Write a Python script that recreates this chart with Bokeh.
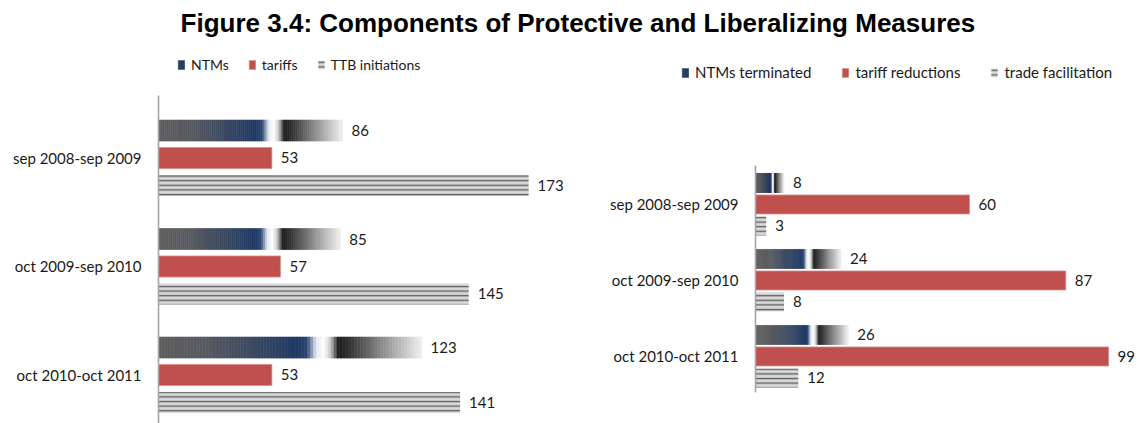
from bokeh.plotting import figure
from bokeh.models import (Range1d, FixedTicker, Legend, LegendItem, ColumnDataSource)
from bokeh.layouts import column, row
from bokeh.core.properties import value
from bokeh.embed import file_html
from bokeh.resources import INLINE

# ---------------- data ----------------
title_text = "Figure 3.4:  Components of Protective and Liberalizing Measures"
periods_left = ["sep 2008-sep 2009", "oct 2009-sep 2010", "oct 2010-oct 2011"]
ntms = [86, 85, 123]
tariffs = [53, 57, 53]
ttb_initiations = [173, 145, 141]
left_series_names = ["NTMs", "tariffs", "TTB initiations"]

periods_right = ["sep 2008-sep 2009", "oct 2009-sep 2010", "oct 2010-oct 2011"]
ntms_terminated = [8, 24, 26]
tariff_reductions = [60, 87, 99]
trade_facilitation = [3, 8, 12]
right_series_names = ["NTMs terminated", "tariff reductions", "trade facilitation"]

# ---------------- styles ----------------
FONT = "Lato"
RED = "#c0504d"
STRIPE_FILL = "#d9d9d9"
STRIPE_COLOR = "#5f5f5f"
AXIS_COLOR = "#a6a6a6"
N_SEG = 90
GRAD_STOPS = [
    (0.00, (0x5e, 0x5e, 0x5e)),
    (0.18, (0x58, 0x5a, 0x60)),
    (0.53, (0x1f, 0x39, 0x64)),
    (0.565, (0x2a, 0x45, 0x70)),
    (0.60, (0xe6, 0xeb, 0xf2)),
    (0.63, (0xff, 0xff, 0xff)),
    (0.655, (0xc8, 0xc8, 0xc8)),
    (0.685, (0x1a, 0x1a, 0x1a)),
    (0.72, (0x2e, 0x2e, 0x2e)),
    (0.85, (0x8c, 0x8c, 0x8c)),
    (1.00, (0xf0, 0xf0, 0xf0)),
]


def grad_color(f):
    for (f0, c0), (f1, c1) in zip(GRAD_STOPS[:-1], GRAD_STOPS[1:]):
        if f0 <= f <= f1:
            t = (f - f0) / (f1 - f0) if f1 > f0 else 0
            c = [round(a + (b - a) * t) for a, b in zip(c0, c1)]
            return "#%02x%02x%02x" % tuple(c)
    return "#%02x%02x%02x" % GRAD_STOPS[-1][1]


def gradient_source(ys, vals, n=N_SEG):
    d = dict(y=[], left=[], right=[], color=[])
    for y, v in zip(ys, vals):
        for i in range(n):
            f0, f1 = i / n, (i + 1) / n
            d["y"].append(y)
            d["left"].append(v * f0)
            d["right"].append(v * f1)
            d["color"].append(grad_color((f0 + f1) / 2))
    return ColumnDataSource(d)


def make_panel(categories, s1, s2, s3, names, width, height, x_start, x_end,
               y_top, y_bottom, axis_bounds, offset, bar_h, border_left,
               fixed_axis, legend_loc, legend_font, legend_spacing):
    p = figure(width=width, height=height, output_backend="svg", toolbar_location=None,
               x_range=Range1d(x_start, x_end), y_range=Range1d(y_bottom, y_top),
               min_border_left=border_left, min_border_right=0,
               min_border_top=0, min_border_bottom=0)
    p.outline_line_color = None
    p.grid.visible = False
    p.xaxis.visible = False
    p.background_fill_color = None
    p.border_fill_color = None

    idx = list(range(len(categories)))
    y1 = [i - offset for i in idx]
    y2 = idx
    y3 = [i + offset for i in idx]

    src = gradient_source(y1, s1)
    r1 = p.hbar(y="y", left="left", right="right", height=bar_h, source=src,
                fill_color="color", line_color="color", line_width=0.6)
    r2 = p.hbar(y=y2, left=0, right=s2, height=bar_h, fill_color=RED,
                line_color="#d98c8a", line_width=0.8)
    r3 = p.hbar(y=y3, left=0, right=s3, height=bar_h, fill_color=STRIPE_FILL,
                line_color=None, hatch_pattern="-", hatch_color=STRIPE_COLOR,
                hatch_scale=4.6, hatch_weight=1.4)

    for ys, vals in ((y1, s1), (y2, s2), (y3, s3)):
        p.text(x=vals, y=ys, text=[str(v) for v in vals], x_offset=9,
               text_align="left", text_baseline="middle",
               text_font=value(FONT), text_font_size="15px", text_color="#1a1a1a")

    ax = p.yaxis[0]
    ax.ticker = FixedTicker(ticks=idx)
    ax.major_label_overrides = {i: c for i, c in zip(idx, categories)}
    ax.major_label_text_font = FONT
    ax.major_label_text_font_size = "15px"
    ax.major_label_text_color = "#1a1a1a"
    ax.major_label_standoff = 17
    ax.major_tick_line_color = None
    ax.minor_tick_line_color = None
    ax.major_tick_out = 0
    ax.major_tick_in = 0
    ax.axis_line_color = AXIS_COLOR
    ax.axis_line_width = 1.6
    ax.bounds = axis_bounds
    if fixed_axis:
        ax.fixed_location = 0

    legend = Legend(items=[LegendItem(label=names[0], renderers=[r1], index=int(N_SEG * 0.47)),
                           LegendItem(label=names[1], renderers=[r2]),
                           LegendItem(label=names[2], renderers=[r3])],
                    orientation="horizontal", location=legend_loc,
                    glyph_width=8, glyph_height=11, label_height=16,
                    label_standoff=6, spacing=legend_spacing, padding=0, margin=0,
                    border_line_color=None, background_fill_alpha=0,
                    label_text_font=FONT, label_text_font_size=legend_font,
                    label_text_color="#1a1a1a")
    p.add_layout(legend)
    return p


p1 = make_panel(periods_left, ntms, tariffs, ttb_initiations, left_series_names,
                width=570, height=379, x_start=0, x_end=192.6,
                y_top=-1.046, y_bottom=2.447, axis_bounds=(-0.576, 2.447),
                offset=0.253, bar_h=0.194, border_left=158, fixed_axis=False,
                legend_loc=(19, 350), legend_font="14px", legend_spacing=19)

p2 = make_panel(periods_right, ntms_terminated, tariff_reductions, trade_facilitation,
                right_series_names,
                width=570, height=379, x_start=-51.88, x_end=107.96,
                y_top=-2.105, y_bottom=2.882, axis_bounds=(-0.513, 2.474),
                offset=0.283, bar_h=0.25, border_left=0, fixed_axis=True,
                legend_loc=(111, 342), legend_font="15px", legend_spacing=30)

# title panel
pt = figure(width=1140, height=44, output_backend="svg", toolbar_location=None,
            x_range=Range1d(0, 1), y_range=Range1d(0, 1),
            min_border_left=22, min_border_right=0, min_border_top=0, min_border_bottom=0)
pt.axis.visible = False
pt.grid.visible = False
pt.outline_line_color = None
pt.text(x=[0.5], y=[0.5], text=[title_text], text_align="center", text_baseline="middle",
        text_font=value("Liberation Sans"), text_font_style="bold",
        text_font_size="26px", text_color="#000000")

layout = column(pt, row(p1, p2, spacing=0), spacing=0)
open("out.html", "w").write(file_html(layout, INLINE))
